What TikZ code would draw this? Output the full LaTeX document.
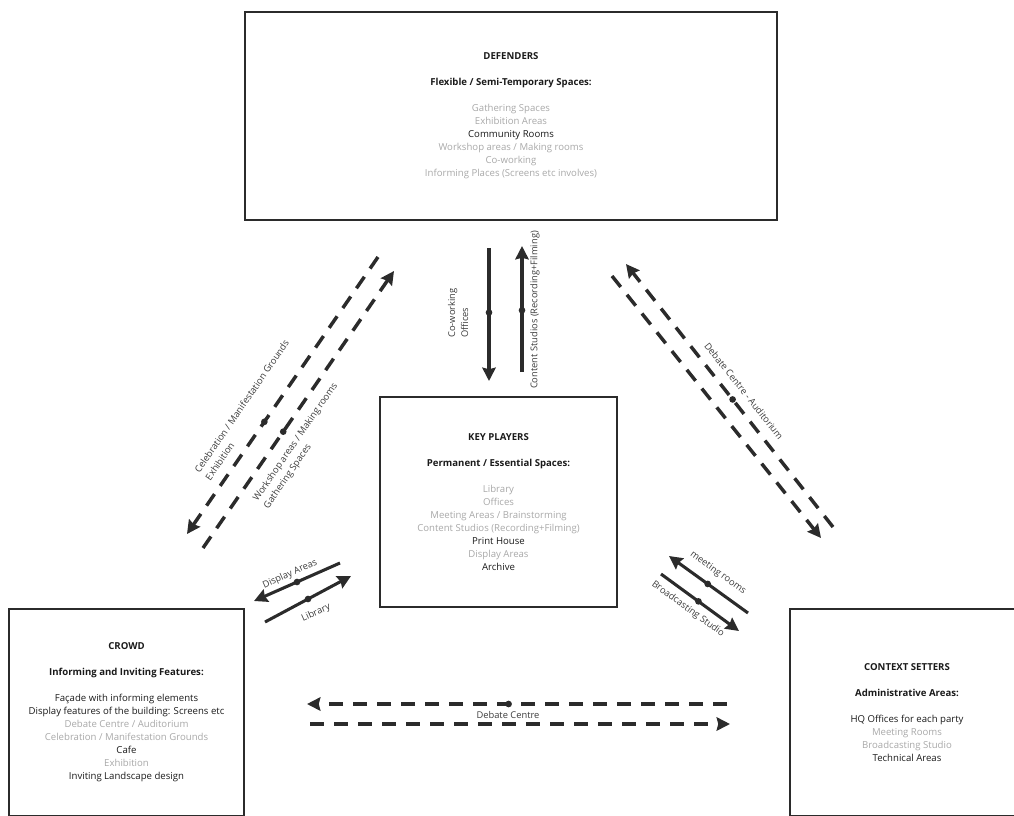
\documentclass[tikz,border=0pt]{standalone}
\usepackage{fontspec}
\setmainfont{Open Sans}
\usetikzlibrary{arrows.meta}
\definecolor{ink}{HTML}{2B2B2B}
\definecolor{lite}{HTML}{A8A8A8}
\definecolor{dark}{HTML}{1A1A1A}
\definecolor{lbl}{HTML}{3C3C3C}
\newcommand{\gr}[1]{\textcolor{lite}{#1}}
\newcommand{\bk}[1]{\textcolor{dark}{#1}}
\begin{document}
\begin{tikzpicture}[x=0.75pt,y=-0.75pt,
  txt/.style={font=\fontsize{7.2}{9.75}\selectfont, align=center, text=dark},
  boxnode/.style={txt, draw=ink, line width=2pt, inner sep=0pt},
  solidarr/.style={draw=ink, line width=2.3pt, -{Stealth[length=10pt,width=10pt,inset=1.2pt]}},
  dasharr/.style={draw=ink, line width=2.6pt, dash pattern=on 10.5pt off 7.5pt, -{Stealth[length=10pt,width=10pt,inset=1.2pt]}},
  dot/.style={circle, fill=ink, inner sep=0pt, minimum size=5pt},
  lab/.style={font=\fontsize{7}{9.75}\selectfont, text=lbl, inner sep=0pt}]
\useasboundingbox (0,0) rectangle (1014,815);

% boxes
\node[boxnode, minimum width=399pt, minimum height=156pt] (def) at (511,116)
 {\textbf{DEFENDERS}\\[9.75pt]
  \textbf{Flexible / Semi-Temporary Spaces:}\\[9.75pt]
  \gr{Gathering Spaces}\\
  \gr{Exhibition Areas}\\
  \bk{Community Rooms}\\
  \gr{Workshop areas / Making rooms}\\
  \gr{Co-working}\\
  \gr{Informing Places (Screens etc involves)}};

\node[boxnode, minimum width=177.75pt, minimum height=157.5pt] (key) at (498.5,502)
 {\textbf{KEY PLAYERS}\\[9.75pt]
  \textbf{Permanent / Essential Spaces:}\\[9.75pt]
  \gr{Library}\\
  \gr{Offices}\\
  \gr{Meeting Areas / Brainstorming}\\
  \gr{Content Studios (Recording+Filming)}\\
  \bk{Print House}\\
  \gr{Display Areas}\\
  \bk{Archive}};

\node[boxnode, minimum width=176.25pt, minimum height=155.25pt] (crowd) at (126.5,712.5)
 {\textbf{CROWD}\\[9.75pt]
  \textbf{Informing and Inviting Features:}\\[9.75pt]
  \bk{Façade with informing elements}\\
  \bk{Display features of the building: Screens etc}\\
  \gr{Debate Centre / Auditorium}\\
  \gr{Celebration / Manifestation Grounds}\\
  \bk{Cafe}\\
  \gr{Exhibition}\\
  \bk{Inviting Landscape design}};

\node[boxnode, minimum width=175.5pt, minimum height=155.25pt] (ctx) at (907,712.5)
 {\textbf{CONTEXT SETTERS}\\[9.75pt]
  \textbf{Administrative Areas:}\\[9.75pt]
  \bk{HQ Offices for each party}\\
  \gr{Meeting Rooms}\\
  \gr{Broadcasting Studio}\\
  \bk{Technical Areas}};

% connector end points
\coordinate (v1s) at (489,248); \coordinate (v1e) at (489,381);
\coordinate (v2s) at (522,372); \coordinate (v2e) at (522,246);
\coordinate (d1s) at (378,257); \coordinate (d1e) at (187,534);
\coordinate (d2s) at (203,548); \coordinate (d2e) at (394,271);
\coordinate (r1s) at (833,527); \coordinate (r1e) at (626,264);
\coordinate (r2s) at (612,276); \coordinate (r2e) at (821,538);
\coordinate (s1s) at (340,563); \coordinate (s1e) at (254,601);
\coordinate (s2s) at (265,622); \coordinate (s2e) at (351,576);
\coordinate (m1s) at (748,613); \coordinate (m1e) at (669,556);
\coordinate (m2s) at (661,574); \coordinate (m2e) at (739,631);
\coordinate (h1s) at (727,704); \coordinate (h1e) at (307,704);
\coordinate (h2s) at (310,724); \coordinate (h2e) at (730,724);

% connectors
\draw[solidarr] (v1s) -- node[dot, pos=0.485] (v1d) {} (v1e);
\draw[solidarr] (v2s) -- node[dot, pos=0.49] (v2d) {} (v2e);
\draw[dasharr] (d1s) -- node[dot, pos=0.595] (d1d) {} (d1e);
\draw[dasharr] (d2s) -- node[dot, pos=0.42] (d2d) {} (d2e);
\draw[dasharr] (r1s) -- node[dot, pos=0.485] (r1d) {} (r1e);
\draw[dasharr] (r2s) -- (r2e);
\draw[solidarr] (s1s) -- node[dot, pos=0.5] (s1d) {} (s1e);
\draw[solidarr] (s2s) -- node[dot, pos=0.5] (s2d) {} (s2e);
\draw[solidarr] (m1s) -- node[dot, pos=0.51] (m1d) {} (m1e);
\draw[solidarr] (m2s) -- node[dot, pos=0.48] (m2d) {} (m2e);
\draw[dasharr] (h1s) -- node[dot, pos=0.52] (h1d) {} (h1e);
\draw[dasharr] (h2s) -- (h2e);

% labels
\node[lab, rotate=90, align=left] (lco) at (458,313) {Co-working\\Offices};
\node[lab, rotate=90] (lcs) at (535,310) {Content Studios (Recording+Filming)};
\node[lab, rotate=55.5, align=left] (lcel) at (247,410) {Celebration / Manifestation Grounds\\Exhibition};
\node[lab, rotate=55.5, align=left] (lws) at (301,446) {Workshop areas / Making rooms\\Gathering Spaces};
\node[lab, rotate=-51.5] (ldc) at (744,391) {Debate Centre - Auditorium};
\node[lab, rotate=24] (lda) at (290,574) {Display Areas};
\node[lab, rotate=24] (llib) at (316,613) {Library};
\node[lab, rotate=-36] (lmr) at (718,573) {meeting rooms};
\node[lab, rotate=-36] (lbs) at (688,609) {Broadcasting Studio};
\node[lab] (ldeb) at (508,715) {Debate Centre};
\end{tikzpicture}
\end{document}
